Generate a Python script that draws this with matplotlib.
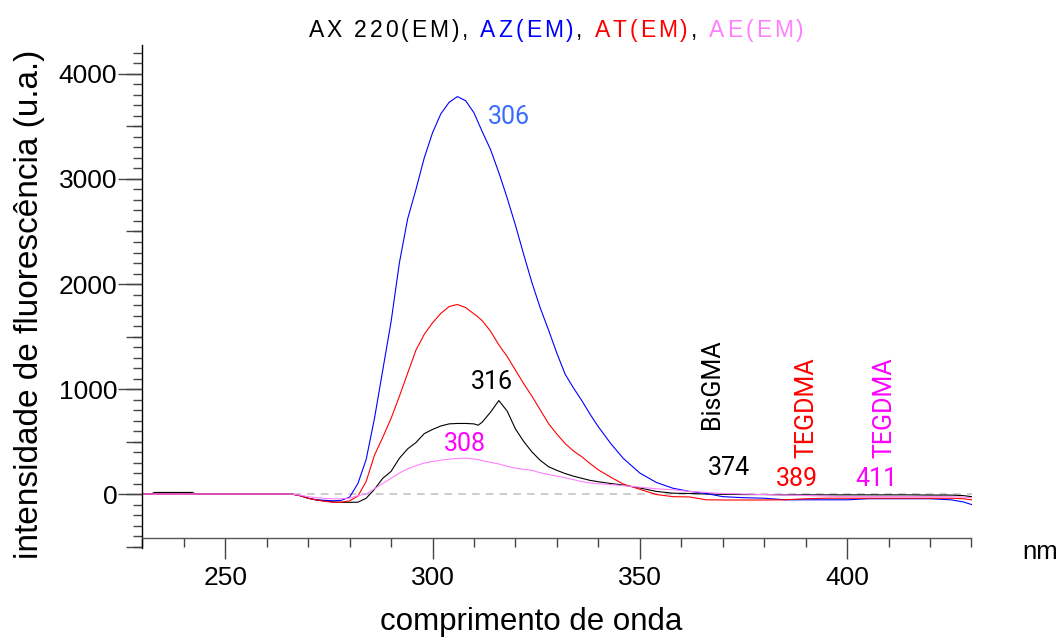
import matplotlib
matplotlib.use("Agg")
import matplotlib.pyplot as plt
from matplotlib.ticker import MultipleLocator, NullFormatter
from matplotlib.offsetbox import TextArea, HPacker, AnnotationBbox

# Emission spectra (fluorescence intensity, a.u.) versus wavelength (nm)
wavelength = [230, 232, 233, 242, 243, 250, 260, 266,
              268, 270, 272, 274, 276, 278, 280, 282, 284, 286, 288, 290,
              292, 294, 296, 298, 300, 302, 304, 306, 308, 310, 311,
              312, 314, 316, 318, 320, 322, 324, 326, 328, 330, 332, 334,
              336, 338, 340, 343, 346, 350, 354, 358, 362, 366, 370,
              375, 380, 385, 390, 395, 400, 405, 410, 415, 420, 425, 428, 430]

ax220_em = [0, 0, 15, 15, 0, 0, 0, 0,
            -15, -40, -57, -65, -75, -79, -79, -78, -40, 45, 150, 215,
            340, 430, 490, 575, 615, 648, 668, 672, 672, 668, 655,
            685, 780, 890, 790, 620, 500, 400, 320, 260, 225, 195, 170,
            150, 130, 117, 100, 85, 58, 25, 8, 5, 0, -3,
            -5, -5, -8, -8, -8, -8, -8, -8, -8, -10, -10, -15, -25]

az_em = [0, 0, 0, 0, 0, 0, 0, 0,
         -15, -40, -55, -60, -64, -60, -30, 100, 330, 720, 1180, 1640,
         2200, 2620, 2900, 3200, 3440, 3620, 3730, 3785, 3745, 3630, 3540,
         3450, 3280, 3060, 2820, 2560, 2280, 2010, 1770, 1560, 1340, 1140, 1010,
         890, 760, 640, 480, 340, 200, 110, 55, 25, 5, -25,
         -35, -40, -55, -55, -55, -55, -45, -45, -45, -45, -55, -75, -100]

at_em = [0, 0, 0, 0, 0, 0, 0, 0,
         -15, -40, -57, -70, -78, -78, -65, -20, 120, 370, 540, 720,
         930, 1150, 1370, 1520, 1630, 1720, 1785, 1805, 1775, 1715, 1685,
         1650, 1550, 1420, 1310, 1180, 1050, 930, 800, 670, 570, 480, 410,
         355, 290, 230, 160, 95, 45, -5, -25, -28, -55, -57,
         -57, -57, -55, -45, -40, -40, -40, -40, -40, -40, -40, -45, -55]

ae_em = [0, 0, 0, 0, 0, 0, 0, 0,
         -10, -25, -35, -42, -45, -45, -40, -15, 0, 50, 100, 150,
         200, 240, 270, 295, 310, 322, 332, 338, 342, 334, 328,
         318, 302, 286, 264, 246, 236, 226, 202, 186, 170, 155, 137,
         118, 106, 98, 90, 80, 65, 50, 40, 25, 15, 5,
         0, -5, -10, -15, -20, -25, -25, -25, -25, -25, -25, -30, -35]

series = [("AX 220(EM)", ax220_em, "#000000"),
          ("AZ(EM)", az_em, "#0000ff"),
          ("AT(EM)", at_em, "#ff0000"),
          ("AE(EM)", ae_em, "#ff80ff")]

# Peak / band annotations: (text, wavelength, intensity, colour, rotation)
annotations = [("306", 318.4, 3590, "#3b6cff", 0),
               ("316", 314.3, 1065, "#000000", 0),
               ("308", 307.8, 480, "#ff00ff", 0),
               ("BisGMA", 367.4, 1045, "#000000", 90),
               ("374", 371.5, 245, "#000000", 0),
               ("TEGDMA", 390.1, 822, "#ff0000", 90),
               ("389", 387.9, 140, "#ff0000", 0),
               ("TEGDMA", 409.1, 822, "#ff00ff", 90),
               ("411", 407.0, 140, "#ff00ff", 0)]

SANS = "Liberation Sans"

fig = plt.figure(figsize=(10.6, 6.37), dpi=100)
ax = fig.add_axes([142.3 / 1060, 1 - 548 / 637, (971.5 - 142.3) / 1060, (548 - 45) / 637])

ax.axhline(0, color="#c0c0c0", lw=1.1, ls=(0, (5, 4)), zorder=1)
for name, vals, col in series:
    ax.plot(wavelength, vals, color=col, lw=0.8, zorder=2)

ax.set_xlim(230, 430)
ax.set_ylim(-514, 4276)

for s in ("top", "right"):
    ax.spines[s].set_visible(False)
ax.spines["bottom"].set_position(("data", -420))
ax.spines["bottom"].set_color("#555555")
ax.spines["bottom"].set_linewidth(1.0)
ax.spines["left"].set_color("#000000")
ax.spines["left"].set_linewidth(1.0)

ax.xaxis.set_major_locator(MultipleLocator(50))
ax.xaxis.set_minor_locator(MultipleLocator(10))
ax.yaxis.set_major_locator(MultipleLocator(1000))
ax.yaxis.set_minor_locator(MultipleLocator(100))
ax.tick_params(axis="x", which="major", direction="out", length=15, width=1.0,
               color="#444444", labelsize=19, pad=5)
ax.tick_params(axis="x", which="minor", direction="out", length=6.5, width=1.0,
               color="#444444")
ax.tick_params(axis="y", which="major", direction="out", length=17, width=1.0,
               color="#444444", labelsize=19, pad=1)
ax.tick_params(axis="y", which="minor", direction="out", length=6.5, width=1.0,
               color="#444444")
for lab in ax.get_xticklabels() + ax.get_yticklabels():
    lab.set_fontfamily(SANS)

# medium-length ticks every 500 on the intensity axis
sec = ax.secondary_yaxis("left")
sec.yaxis.set_major_locator(MultipleLocator(500))
sec.yaxis.set_major_formatter(NullFormatter())
sec.tick_params(axis="y", which="major", direction="out", length=11.5, width=1.0,
                color="#444444")
sec.spines["left"].set_visible(False)

for text, x, y, col, rot in annotations:
    ax.text(x, y, text, color=col, fontsize=18, family="Roboto", rotation=rot,
            ha="center", va="center")

# Multicoloured, letter-spaced title
title_parts = [("AX 220(EM)", "#000000"), (", ", "#000000"),
               ("AZ(EM)", "#0000ff"), (", ", "#000000"),
               ("AT(EM)", "#ff0000"), (", ", "#000000"),
               ("AE(EM)", "#ff80ff")]
chars = []
for txt, col in title_parts:
    for ch in txt:
        chars.append(TextArea(ch, textprops=dict(color=col, fontsize=16.5, family=SANS)))
title_box = HPacker(children=chars, align="baseline", pad=0, sep=2.1)
ab = AnnotationBbox(title_box, (556 / 1060, 1 - 30.5 / 637), xycoords="figure fraction",
                    box_alignment=(0.5, 0.5), frameon=False)
fig.add_artist(ab)

fig.text(531 / 1060, 1 - 622 / 637, "comprimento de onda", fontsize=22.5, family=SANS,
         ha="center", va="center")
fig.text(30 / 1060, 1 - 304 / 637, "intensidade de fluorescência (u.a.)", fontsize=24,
         family=SANS, ha="center", va="center", rotation=90)
fig.text(1040 / 1060, 1 - 552 / 637, "nm", fontsize=18.5, family=SANS,
         ha="center", va="center")

fig.savefig("out.png", dpi=100)
